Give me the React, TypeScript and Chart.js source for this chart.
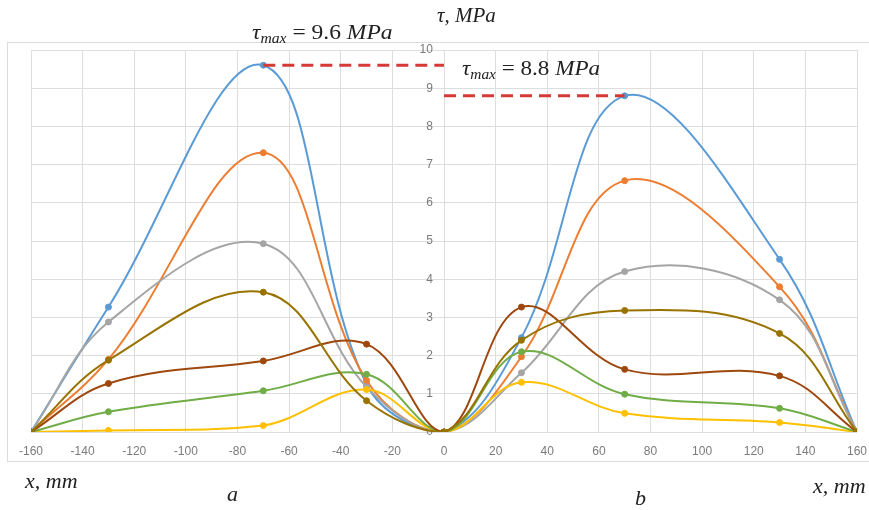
import React, { useEffect, useRef } from "react";
import { Chart, registerables } from "chart.js";

Chart.register(...registerables);

// ---- data ----
const xPositions = [-160, -130, -70, -30, 0, 30, 70, 130, 160];
const seriesBlue = [0, 3.27, 9.6, 1.25, 0, 2.47, 8.8, 4.52, 0];
const seriesOrange = [0, 1.9, 7.31, 1.35, 0, 1.97, 6.58, 3.8, 0];
const seriesGray = [0, 2.88, 4.93, 1.18, 0, 1.55, 4.2, 3.46, 0];
const seriesYellow = [0, 0.04, 0.17, 1.11, 0, 1.3, 0.49, 0.25, 0];
const seriesGreen = [0, 0.53, 1.08, 1.51, 0, 2.1, 0.99, 0.62, 0];
const seriesBrown = [0, 1.27, 1.86, 2.3, 0, 3.27, 1.64, 1.47, 0];
const seriesOlive = [0, 1.88, 3.66, 0.82, 0, 2.4, 3.18, 2.58, 0];

const seriesList = [seriesBlue, seriesOrange, seriesGray, seriesYellow, seriesGreen, seriesBrown, seriesOlive];
const seriesColors = ["#5B9BD5", "#ED7D31", "#A5A5A5", "#FFC000", "#70AD47", "#9E480E", "#997300"];

const maxLineLeftX = [-70, 0];
const maxLeftValue = 9.6;
const maxLineRightX = [0, 70];
const maxRightValue = 8.8;

const xMin = -160;
const xMax = 160;
const xStep = 20;
const yMin = 0;
const yMax = 10;
const yStep = 1;
// y-axis labels sit just left of x = 0
const yAxisAnchorX = -4.3;

type Part = { t: string; size: number; italic: boolean; dy?: number };

const SERIF = '"Liberation Serif", "DejaVu Serif", serif';

function drawParts(ctx: CanvasRenderingContext2D, x: number, y: number, parts: Part[], sx = 1) {
  ctx.save();
  ctx.translate(x, y);
  ctx.scale(sx, 1);
  ctx.textBaseline = "alphabetic";
  ctx.textAlign = "left";
  ctx.fillStyle = "#222";
  let cx = 0;
  for (const p of parts) {
    ctx.font = `${p.italic ? "italic " : ""}${p.size}px ${SERIF}`;
    ctx.fillText(p.t, cx, p.dy || 0);
    cx += ctx.measureText(p.t).width;
  }
  ctx.restore();
}

const decorPlugin = {
  id: "decor",
  beforeDraw(chart: any) {
    const ctx: CanvasRenderingContext2D = chart.ctx;
    ctx.save();
    ctx.fillStyle = "#ffffff";
    ctx.fillRect(0, 0, chart.width, chart.height);
    ctx.strokeStyle = "#dcdcdc";
    ctx.lineWidth = 1;
    ctx.strokeRect(7.5, 42.5, 880, 419);
    ctx.restore();
  },
  afterDraw(chart: any) {
    const ctx: CanvasRenderingContext2D = chart.ctx;
    drawParts(ctx, 252, 39, [
      { t: "τ", size: 21, italic: true },
      { t: "max", size: 14, italic: true, dy: 4 },
      { t: " = 9.6 ", size: 21, italic: false },
      { t: "MPa", size: 21, italic: true },
    ], 1.12);
    drawParts(ctx, 462, 75, [
      { t: "τ", size: 21, italic: true },
      { t: "max", size: 14, italic: true, dy: 4 },
      { t: " = 8.8 ", size: 21, italic: false },
      { t: "MPa", size: 21, italic: true },
    ], 1.1);
    drawParts(ctx, 437, 22, [
      { t: "τ, ", size: 21, italic: true },
      { t: "MPa", size: 21, italic: true },
    ]);
    drawParts(ctx, 25, 488, [{ t: "x, mm", size: 22, italic: true }]);
    drawParts(ctx, 813, 493, [{ t: "x, mm", size: 22, italic: true }]);
    drawParts(ctx, 227, 501, [{ t: "a", size: 22, italic: true }]);
    drawParts(ctx, 635, 505, [{ t: "b", size: 22, italic: true }]);
  },
};

export default function App() {
  const canvasRef = useRef<HTMLCanvasElement | null>(null);

  useEffect(() => {
    if (!canvasRef.current) return;
    const n = seriesList.length;
    const datasets: any[] = seriesList.map((vals, i) => ({
      label: `s${i + 1}`,
      data: xPositions.map((x, k) => ({ x, y: vals[k] })),
      borderColor: seriesColors[i],
      backgroundColor: seriesColors[i],
      pointBackgroundColor: seriesColors[i],
      pointBorderColor: seriesColors[i],
      borderWidth: 2,
      pointRadius: 3,
      pointBorderWidth: 1,
      tension: 0.38,
      fill: false,
      order: n - i + 1,
    }));
    datasets.push({
      label: "maxL",
      data: maxLineLeftX.map((x) => ({ x, y: maxLeftValue })),
      borderColor: "#d63a36",
      borderWidth: 3,
      borderDash: [12, 7],
      pointRadius: 0,
      tension: 0,
      fill: false,
      order: 0,
    });
    datasets.push({
      label: "maxR",
      data: maxLineRightX.map((x) => ({ x, y: maxRightValue })),
      borderColor: "#d63a36",
      borderWidth: 3,
      borderDash: [12, 7],
      pointRadius: 0,
      tension: 0,
      fill: false,
      order: 0,
    });

    const chart = new Chart(canvasRef.current, {
      type: "line",
      data: { datasets },
      plugins: [decorPlugin as any],
      options: {
        animation: false,
        responsive: false,
        events: [],
        layout: { padding: { left: 31, right: 12, top: 50, bottom: 38 } },
        plugins: { legend: { display: false }, tooltip: { enabled: false }, title: { display: false } },
        scales: {
          x: {
            type: "linear",
            min: xMin,
            max: xMax,
            ticks: {
              stepSize: xStep,
              color: "#7a7a7a",
              padding: 12,
              font: { family: '"Liberation Sans Narrow", "Liberation Sans", sans-serif', size: 12 },
              maxRotation: 0,
            },
            grid: { color: "#dedede", drawTicks: false, lineWidth: 1 },
            border: { display: false },
            afterFit: (s: any) => {
              s.height = 40;
              s.paddingLeft = 0;
              s.paddingRight = 0;
            },
          },
          y: {
            type: "linear",
            min: yMin,
            max: yMax,
            position: { x: yAxisAnchorX } as any,
            ticks: {
              stepSize: yStep,
              color: "#7a7a7a",
              padding: 0,
              font: { family: '"Liberation Sans Narrow", "Liberation Sans", sans-serif', size: 12 },
            },
            grid: { color: "#dedede", drawTicks: false, lineWidth: 1 },
            border: { display: false },
            afterFit: (s: any) => {
              s.width = 0;
            },
          },
        },
      },
    });
    return () => chart.destroy();
  }, []);

  return (
    <div style={{ position: "absolute", left: 0, top: 0, width: 869, height: 510, background: "#fff" }}>
      <canvas ref={canvasRef} width={869} height={510} style={{ display: "block" }} />
    </div>
  );
}
